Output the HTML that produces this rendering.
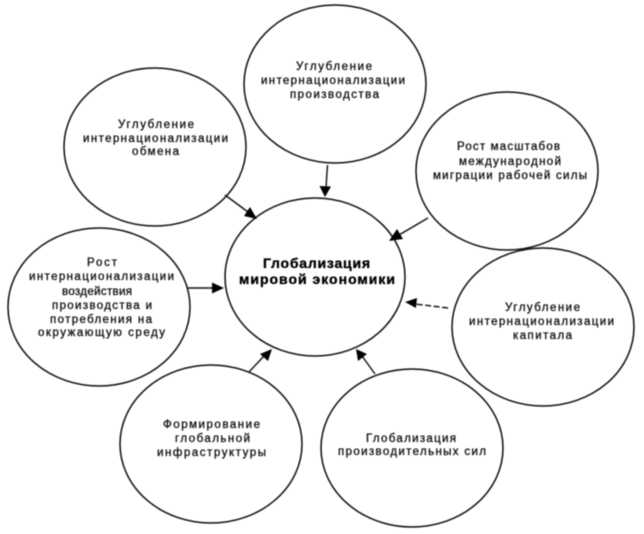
<!DOCTYPE html>
<html><head><meta charset="utf-8"><style>
html,body{margin:0;padding:0;background:#fff;width:644px;height:534px;overflow:hidden}
svg{display:block}
text{font-family:"Liberation Sans",sans-serif;font-size:11.5px;fill:#111;stroke:#111;stroke-width:.3}
.b{font-size:14px;font-weight:bold;fill:#000;stroke:#000;stroke-width:.35}
ellipse{fill:none;stroke:#111;stroke-width:1.5}
line{stroke:#111;stroke-width:1.4}
polygon{fill:#000}
</style></head><body>
<svg width="644" height="534" viewBox="0 0 644 534" xmlns="http://www.w3.org/2000/svg">
<defs><filter id="s" x="-5%" y="-5%" width="110%" height="110%"><feGaussianBlur stdDeviation="0.45"/></filter></defs>
<g filter="url(#s)">
<ellipse cx="335" cy="84" rx="91" ry="79"/>
<ellipse cx="155" cy="147" rx="91" ry="79"/>
<ellipse cx="507" cy="171" rx="91" ry="79"/>
<ellipse cx="99" cy="307" rx="91" ry="79"/>
<ellipse cx="543" cy="327" rx="91" ry="79"/>
<ellipse cx="211" cy="444" rx="91" ry="79"/>
<ellipse cx="412" cy="448" rx="91" ry="79"/>
<ellipse cx="315" cy="277" rx="90" ry="79"/>

<line x1="225" y1="195" x2="248" y2="212"/><polygon points="257,219 244,216 250,207"/>
<line x1="327.500" y1="165" x2="326" y2="188"/><polygon points="325,197 319.500,186 331,186.500"/>
<line x1="428" y1="218" x2="399" y2="235"/><polygon points="389,241 397,229 403,239"/>
<line x1="188" y1="288" x2="213" y2="288"/><polygon points="224,288 212,282.500 212,293.500"/>
<line x1="448" y1="308" x2="415" y2="304" stroke-dasharray="6 2.500"/><polygon points="405,302 417,298 416,308"/>
<line x1="375" y1="374" x2="362" y2="356"/><polygon points="356,349 367,354 358,361"/>
<line x1="249" y1="372" x2="264" y2="356"/><polygon points="272,349 268,361 260,354"/>

<text x="296" y="70" textLength="76">Углубление</text>
<text x="261" y="84" textLength="144">интернационализации</text>
<text x="290" y="98" textLength="89">производства</text>

<text x="118" y="128" textLength="76">Углубление</text>
<text x="83" y="142" textLength="145">интернационализации</text>
<text x="132" y="155" textLength="47">обмена</text>

<text x="457" y="150" textLength="103">Рост масштабов</text>
<text x="459" y="165" textLength="102">международной</text>
<text x="433" y="179" textLength="154">миграции рабочей силы</text>

<text x="87" y="266" textLength="30">Рост</text>
<text x="29" y="280" textLength="145">интернационализации</text>
<text x="62" y="295" textLength="70">воздействия</text>
<text x="52" y="309" textLength="100">производства и</text>
<text x="50" y="323" textLength="102">потребления на</text>
<text x="38" y="336" textLength="127">окружающую среду</text>

<text x="505" y="311" textLength="75">Углубление</text>
<text x="469" y="325" textLength="145">интернационализации</text>
<text x="513" y="339" textLength="59">капитала</text>

<text x="163" y="428" textLength="97">Формирование</text>
<text x="175" y="442" textLength="75">глобальной</text>
<text x="157" y="456" textLength="109">инфраструктуры</text>

<text x="366" y="442" textLength="90">Глобализация</text>
<text x="338" y="455" textLength="148">производительных сил</text>

<text class="b" x="263" y="268" textLength="107">Глобализация</text>
<text class="b" x="239" y="284" textLength="156">мировой экономики</text>
</g>
</svg>
</body></html>
